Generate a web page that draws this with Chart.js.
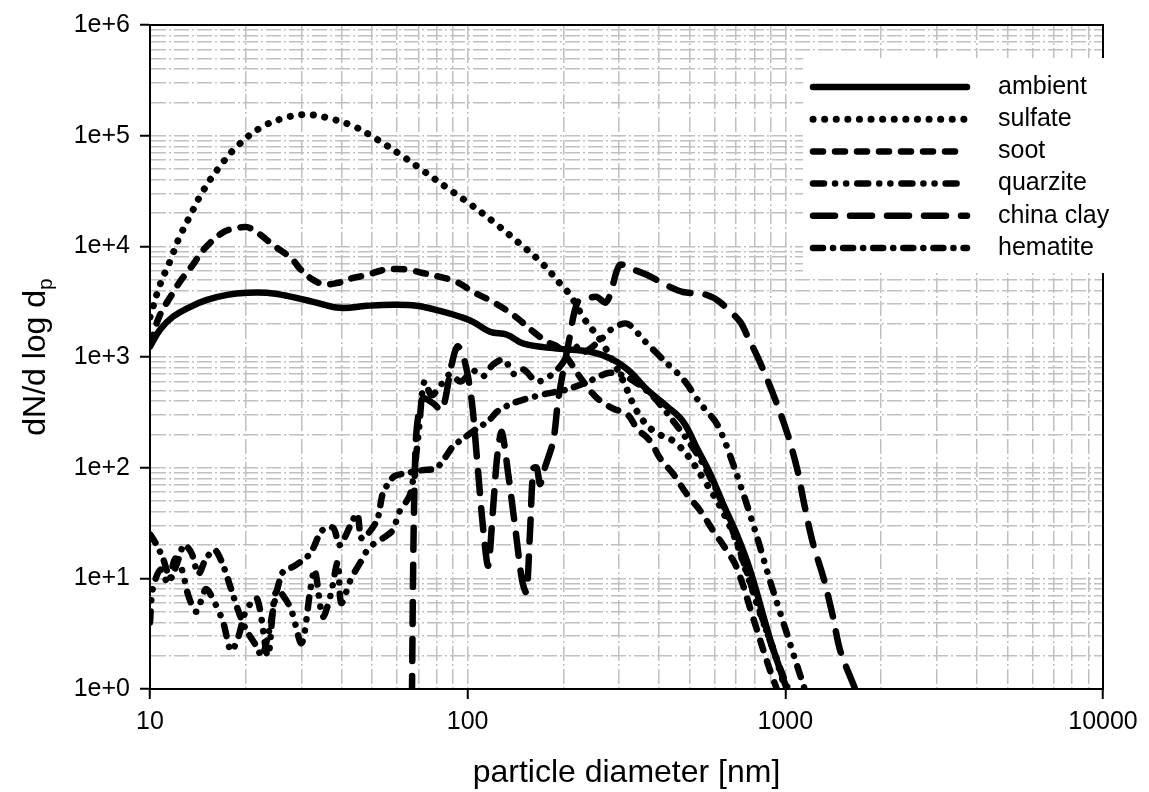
<!DOCTYPE html>
<html>
<head>
<meta charset="utf-8">
<script src="https://cdn.jsdelivr.net/npm/chart.js@4.4.1/dist/chart.umd.min.js"></script>
<style>
  html, body { margin: 0; padding: 0; background: #fff; }
</style>
</head>
<body>
<canvas id="sizeDist" width="1149" height="792"></canvas>
<script>
// particle size distributions, dN/dlog(dp) against diameter in nm
const ambientD = [10, 10.75, 11.8, 13.4, 15.1, 17.5, 20.2, 23.3, 27, 32.6, 39.6, 48.1, 58.2, 69, 81.8, 94.7, 104, 117.5, 133, 150, 191, 242, 286, 324, 366, 424, 476, 527, 580, 637, 703, 775, 896, 1010];
const ambientN = [1240, 1760, 2310, 2840, 3280, 3640, 3800, 3800, 3570, 3150, 2780, 2900, 2960, 2900, 2610, 2310, 2080, 1690, 1590, 1320, 1190, 1120, 948, 740, 509, 358, 262, 150, 88, 47, 25, 11.8, 2.8, 1];

const sulfateD = [10, 10.75, 11.6, 12.3, 13.4, 14.6, 16.4, 18.9, 22.3, 26.6, 31.4, 37.1, 44.2, 52, 61.6, 73, 86.6, 102, 121, 144, 170, 197, 211, 233, 264, 306, 342, 384, 455, 551, 668, 750, 830, 920, 1000];
const sulfateN = [2300, 4480, 7500, 11600, 19100, 30700, 50500, 81300, 118000, 145000, 155000, 142000, 120000, 92000, 67000, 47500, 33400, 24000, 16500, 10900, 7200, 4480, 3570, 2200, 1370, 640, 320, 215, 165, 80, 30, 12, 5, 2.2, 1];

const sootD = [10, 10.75, 11.7, 12.4, 13.7, 14.7, 17, 18.8, 20.2, 21.7, 24.4, 28, 29.7, 32.3, 35, 38.8, 43.6, 48.2, 54.2, 59.9, 65.8, 72.3, 81.8, 92.5, 104, 120, 139, 161, 178, 195, 231, 256, 286, 318, 341, 376, 403, 444, 489, 540, 593, 654, 703, 800, 880, 940];
const sootN = [1300, 2400, 3640, 4760, 6920, 9250, 13400, 14600, 14900, 13400, 10300, 7670, 6240, 5070, 4570, 4660, 5180, 5510, 6110, 6240, 6110, 5740, 5290, 4760, 3870, 3150, 2400, 1690, 1370, 1190, 601, 423, 344, 303, 227, 173, 122, 87.6, 57.9, 40.7, 26.9, 17.8, 12.5, 4, 1.7, 1];

const quarziteD = [10, 10.2, 10.8, 11.4, 12, 12.6, 13.2, 14, 15, 16, 17, 18, 19, 20, 21.7, 23.5, 25, 27.6, 30, 32, 33, 35, 37, 39, 40, 43, 46, 49, 54, 58, 61, 66, 70, 73, 77, 82, 88, 95, 104, 112, 120, 130, 140, 150, 165, 185, 200, 215, 230, 260, 285, 318, 360, 420, 477, 540, 613, 700, 800, 900, 1000, 1150];
const quarziteN = [4, 8, 12, 9, 15, 12, 7, 5, 8, 6, 4, 2.2, 3, 5, 6.6, 2, 7.8, 5.5, 2.6, 8, 12, 4.5, 7, 14, 6, 10, 14, 19, 23, 27, 40, 58, 200, 600, 450, 550, 700, 600, 750, 670, 850, 950, 700, 770, 600, 700, 900, 1300, 1100, 1400, 1800, 2000, 1400, 900, 630, 380, 240, 90, 28, 9, 3.5, 1];

const chinaClayD = [66.5, 68.5, 72, 78, 83, 89, 93, 98, 103, 107, 112, 116, 120, 124, 128, 134, 142, 148, 153, 157, 161, 165, 169, 175, 186, 193, 209, 222, 240, 255, 272, 282, 301, 330, 366, 433, 476, 567, 621, 720, 756, 830, 927, 1014, 1090, 1150, 1220, 1320, 1410, 1490, 1660];
const chinaClayN = [0.3, 150, 420, 380, 330, 850, 1250, 900, 400, 120, 27, 13, 40, 130, 210, 90, 25, 10, 7.5, 25, 99, 100, 71, 100, 175, 420, 1460, 3150, 3400, 3490, 3100, 3800, 6780, 6200, 5530, 4300, 3870, 3630, 3150, 2090, 1590, 910, 421, 205, 97, 45, 21, 10, 4.6, 2.2, 1];

const hematiteD = [10, 10.5, 11, 11.6, 12.2, 12.8, 13.5, 14.2, 15, 16, 17, 18, 19, 20, 21.5, 22.5, 23.5, 26, 28.6, 31.9, 34.8, 37.7, 39.6, 44.8, 46.4, 51.7, 54, 56.8, 59, 65, 72, 80, 90, 97, 108, 116, 124, 138, 151, 177, 205, 240, 280, 320, 380, 450, 530, 611, 700, 800, 900, 1020];
const hematiteN = [25, 20, 15, 10, 14, 20, 17, 11, 15, 18, 13, 8, 5, 3.5, 2.5, 2, 3, 11, 13, 16.7, 27, 28.6, 20, 38, 23, 33, 58, 75, 84, 90, 95, 100, 156, 184, 230, 262, 322, 380, 415, 466, 508, 600, 720, 650, 450, 250, 130, 60, 22, 7, 2.6, 1];

const seriesNames = ['ambient', 'sulfate', 'soot', 'quarzite', 'china clay', 'hematite'];

const xDecades = [10, 100, 1000, 10000];
const yDecades = [1, 10, 100, 1000, 10000, 100000, 1000000];

const FONT = 'Liberation Sans, Arial, Helvetica, sans-serif';

function pairs(xs, ys) {
  return xs.map((x, i) => ({x: x, y: ys[i]}));
}

// 1..9 per decade, so every minor grid line gets drawn
function logTicks(decades) {
  let ticks = [];
  for (let i = 0; i < decades.length - 1; i++) {
    for (let m = 1; m < 10; m++) {
      ticks.push({value: m * decades[i], major: m === 1});
    }
  }
  ticks.push({value: decades[decades.length - 1], major: true});
  return ticks;
}

function isDecade(v) {
  let e = Math.log10(v);
  return Math.abs(e - Math.round(e)) < 1e-9;
}

function line(label, data, width, dash, tension, dashOffset) {
  return {
    label: label,
    data: data,
    borderColor: '#000',
    backgroundColor: '#000',
    borderWidth: width,
    borderDash: dash,
    borderDashOffset: dashOffset || 0,
    borderCapStyle: 'round',
    borderJoinStyle: 'round',
    pointRadius: 0,
    pointHoverRadius: 0,
    fill: false,
    tension: tension
  };
}

// plot frame on all four sides
const frame = {
  id: 'frame',
  afterDatasetsDraw(chart) {
    const ctx = chart.ctx;
    const a = chart.chartArea;
    ctx.save();
    ctx.strokeStyle = '#000';
    ctx.lineWidth = 2;
    ctx.strokeRect(a.left, a.top, a.right - a.left, a.bottom - a.top);
    ctx.restore();
  }
};

// y title with subscript p
const yTitle = {
  id: 'yTitle',
  afterDraw(chart, args, opts) {
    const ctx = chart.ctx;
    const a = chart.chartArea;
    ctx.save();
    ctx.translate(opts.x, (a.top + a.bottom) / 2);
    ctx.rotate(-Math.PI / 2);
    ctx.fillStyle = '#000';
    ctx.textBaseline = 'alphabetic';
    ctx.font = opts.size + 'px ' + FONT;
    const main = 'dN/d log d';
    const wMain = ctx.measureText(main).width;
    ctx.font = Math.round(opts.size * 0.65) + 'px ' + FONT;
    const wSub = ctx.measureText('p').width;
    const x0 = -(wMain + wSub) / 2;
    ctx.font = opts.size + 'px ' + FONT;
    ctx.fillText(main, x0, 0);
    ctx.font = Math.round(opts.size * 0.65) + 'px ' + FONT;
    ctx.fillText('p', x0 + wMain, opts.size * 0.22);
    ctx.restore();
  }
};

// legend on a white box inside the plot
const legendBox = {
  id: 'legendBox',
  afterDraw(chart, args, opts) {
    const ctx = chart.ctx;
    ctx.save();
    ctx.fillStyle = '#fff';
    ctx.fillRect(opts.left, opts.top, opts.width, opts.height);
    chart.data.datasets.forEach((ds, i) => {
      const y = opts.firstRow + i * opts.rowGap;
      ctx.beginPath();
      ctx.setLineDash(ds.borderDash || []);
      ctx.lineDashOffset = 0;
      ctx.lineWidth = ds.borderWidth;
      ctx.lineCap = ds.borderCapStyle;
      ctx.strokeStyle = ds.borderColor;
      ctx.moveTo(opts.lineStart, y);
      ctx.lineTo(opts.lineEnd, y);
      ctx.stroke();
      ctx.setLineDash([]);
      ctx.fillStyle = '#000';
      ctx.font = opts.fontSize + 'px ' + FONT;
      ctx.textBaseline = 'middle';
      ctx.fillText(ds.label, opts.textX, y);
    });
    ctx.restore();
  }
};

const gridDash = [15, 3, 2, 3];

new Chart(document.getElementById('sizeDist'), {
  type: 'line',
  data: {
    datasets: [
      line(seriesNames[0], pairs(ambientD, ambientN), 6.5, [], 0.4),
      line(seriesNames[1], pairs(sulfateD, sulfateN), 7, [0.1, 11.5], 0.4),
      line(seriesNames[2], pairs(sootD, sootN), 6.5, [10, 12], 0.4),
      line(seriesNames[3], pairs(quarziteD, quarziteN), 6.5, [11, 11, 0.1, 11, 0.1, 11], 0.3),
      line(seriesNames[4], pairs(chinaClayD, chinaClayN), 6.5, [22, 15], 0.3, 25),
      line(seriesNames[5], pairs(hematiteD, hematiteN), 6.5, [10, 10, 0.1, 10], 0.3)
    ]
  },
  options: {
    responsive: false,
    animation: false,
    events: [],
    layout: { padding: { top: 22, right: 46, left: 0, bottom: 0 } },
    plugins: {
      legend: { display: false },
      tooltip: { enabled: false },
      yTitle: { x: 45, size: 32 },
      legendBox: {
        left: 803, top: 58, width: 307, height: 215,
        firstRow: 87, rowGap: 32.2,
        lineStart: 813, lineEnd: 967, textX: 998, fontSize: 25
      }
    },
    scales: {
      x: {
        type: 'logarithmic',
        position: 'bottom',
        min: 10,
        max: 10000,
        afterBuildTicks: (scale) => { scale.ticks = logTicks(xDecades); },
        afterFit: (scale) => { scale.height = 103; },
        ticks: {
          autoSkip: false,
          maxRotation: 0,
          minRotation: 0,
          padding: 8,
          color: '#000',
          font: { family: FONT, size: 25 },
          callback: (v) => isDecade(v) ? String(v) : ''
        },
        grid: {
          color: '#c0c0c0',
          lineWidth: 1.5,
          tickLength: 10,
          tickWidth: 2,
          tickColor: (c) => (c.tick && c.tick.major) ? '#000' : 'rgba(0,0,0,0)'
        },
        border: { display: true, color: '#000', width: 2, dash: gridDash },
        title: {
          display: true,
          text: 'particle diameter [nm]',
          color: '#000',
          font: { family: FONT, size: 32 },
          padding: { top: 0, bottom: 0 }
        }
      },
      y: {
        type: 'logarithmic',
        min: 1,
        max: 1000000,
        afterBuildTicks: (scale) => { scale.ticks = logTicks(yDecades); },
        afterFit: (scale) => { scale.width = 150; },
        ticks: {
          autoSkip: false,
          padding: 10,
          color: '#000',
          font: { family: FONT, size: 25 },
          callback: (v) => isDecade(v) ? '1e+' + Math.round(Math.log10(v)) : ''
        },
        grid: {
          color: '#c0c0c0',
          lineWidth: 1.5,
          tickLength: 10,
          tickWidth: 2,
          tickColor: (c) => (c.tick && c.tick.major) ? '#000' : 'rgba(0,0,0,0)'
        },
        border: { display: true, color: '#000', width: 2, dash: gridDash }
      }
    }
  },
  plugins: [frame, yTitle, legendBox]
});
</script>
</body>
</html>
